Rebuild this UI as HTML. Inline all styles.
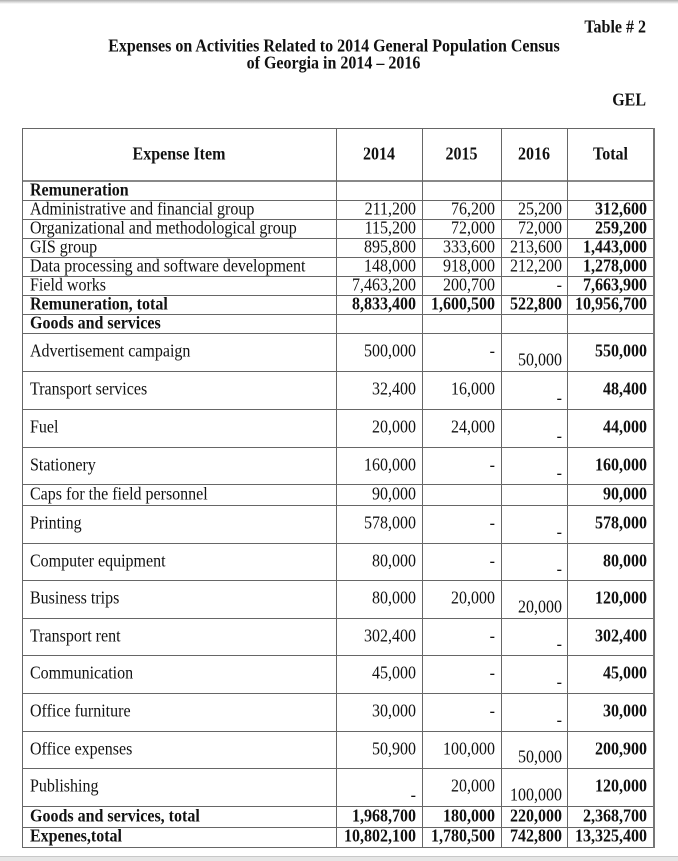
<!DOCTYPE html>
<html><head><meta charset="utf-8">
<style>
html,body{margin:0;padding:0;}
body{width:678px;height:861px;position:relative;background:#fff;overflow:hidden;font-family:"Liberation Serif","Times New Roman",serif;font-size:16px;color:#111;}
.t{position:absolute;white-space:nowrap;line-height:19px;transform:scaleY(1.15);transform-origin:50% 55%;}
.b{font-weight:bold;}
.h{position:absolute;left:22px;width:633px;height:1px;background:#666;}
.v{position:absolute;top:128px;height:720px;width:1px;background:#666;}
.r{position:absolute;left:0;width:678px;}
.r .t{top:0;line-height:inherit;}
.r .bt{top:auto;bottom:1px;line-height:19px;}
.c0{left:30px;}
.c1{right:262px;}
.c2{right:183px;}
.c3{right:116px;}
.c4{right:31px;}
</style></head><body>
<div style="position:absolute;left:0;top:0;width:678px;height:4px;background:linear-gradient(#b0b0b0,#fff);"></div>
<div style="position:absolute;left:0;top:856px;width:678px;height:1px;background:#c8c8c8;"></div>
<div style="position:absolute;left:0;top:857px;width:678px;height:4px;background:#e6e6e6;"></div>

<div class="t b" style="right:32px;top:18px;">Table # 2</div>
<div class="t b" style="left:0;width:668px;text-align:center;top:37px;">Expenses on Activities Related to 2014 General Population Census</div>
<div class="t b" style="left:0;width:667px;text-align:center;top:54px;">of Georgia in 2014 – 2016</div>
<div class="t b" style="right:32px;top:91px;">GEL</div>

<!-- horizontal lines -->
<div class="h" style="top:128px"></div>
<div class="h" style="top:180px;height:2px;background:#888"></div>
<div class="h" style="top:200px"></div>
<div class="h" style="top:219px"></div>
<div class="h" style="top:238px"></div>
<div class="h" style="top:257px"></div>
<div class="h" style="top:276px"></div>
<div class="h" style="top:295px"></div>
<div class="h" style="top:314px"></div>
<div class="h" style="top:333px"></div>
<div class="h" style="top:371px"></div>
<div class="h" style="top:409px"></div>
<div class="h" style="top:447px"></div>
<div class="h" style="top:484px"></div>
<div class="h" style="top:505px"></div>
<div class="h" style="top:543px"></div>
<div class="h" style="top:580px"></div>
<div class="h" style="top:618px"></div>
<div class="h" style="top:655px"></div>
<div class="h" style="top:693px"></div>
<div class="h" style="top:731px"></div>
<div class="h" style="top:768px"></div>
<div class="h" style="top:806px"></div>
<div class="h" style="top:827px"></div>
<div class="h" style="top:847px"></div>

<!-- vertical lines -->
<div class="v" style="left:22px"></div>
<div class="v" style="left:336px"></div>
<div class="v" style="left:422px"></div>
<div class="v" style="left:501px"></div>
<div class="v" style="left:567px"></div>
<div class="v" style="left:653px;width:2px;background:#777"></div>

<!-- header -->
<div class="r b" style="top:128px;height:53px;line-height:53px;">
<div class="t" style="left:22px;width:314px;text-align:center;">Expense Item</div>
<div class="t" style="left:336px;width:86px;text-align:center;">2014</div>
<div class="t" style="left:422px;width:79px;text-align:center;">2015</div>
<div class="t" style="left:501px;width:66px;text-align:center;">2016</div>
<div class="t" style="left:567px;width:87px;text-align:center;">Total</div>
</div>

<!-- Remuneration block -->
<div class="r" style="top:181px;height:19px;line-height:19px;"><div class="t b c0">Remuneration</div></div>
<div class="r" style="top:200px;height:19px;line-height:19px;">
<div class="t c0">Administrative and financial group</div><div class="t c1">211,200</div><div class="t c2">76,200</div><div class="t c3">25,200</div><div class="t b c4">312,600</div></div>
<div class="r" style="top:219px;height:19px;line-height:19px;">
<div class="t c0">Organizational and methodological group</div><div class="t c1">115,200</div><div class="t c2">72,000</div><div class="t c3">72,000</div><div class="t b c4">259,200</div></div>
<div class="r" style="top:238px;height:19px;line-height:19px;">
<div class="t c0">GIS group</div><div class="t c1">895,800</div><div class="t c2">333,600</div><div class="t c3">213,600</div><div class="t b c4">1,443,000</div></div>
<div class="r" style="top:257px;height:19px;line-height:19px;">
<div class="t c0">Data processing and software development</div><div class="t c1">148,000</div><div class="t c2">918,000</div><div class="t c3">212,200</div><div class="t b c4">1,278,000</div></div>
<div class="r" style="top:276px;height:19px;line-height:19px;">
<div class="t c0">Field works</div><div class="t c1">7,463,200</div><div class="t c2">200,700</div><div class="t c3">-</div><div class="t b c4">7,663,900</div></div>
<div class="r b" style="top:295px;height:19px;line-height:19px;">
<div class="t c0">Remuneration, total</div><div class="t c1">8,833,400</div><div class="t c2">1,600,500</div><div class="t c3">522,800</div><div class="t c4">10,956,700</div></div>
<div class="r" style="top:314px;height:19px;line-height:19px;"><div class="t b c0">Goods and services</div></div>

<!-- Goods block -->
<div class="r" style="top:333px;height:38px;line-height:38px;">
<div class="t c0">Advertisement campaign</div><div class="t c1">500,000</div><div class="t c2">-</div><div class="t bt c3">50,000</div><div class="t b c4">550,000</div></div>
<div class="r" style="top:371px;height:38px;line-height:38px;">
<div class="t c0">Transport services</div><div class="t c1">32,400</div><div class="t c2">16,000</div><div class="t bt c3">-</div><div class="t b c4">48,400</div></div>
<div class="r" style="top:409px;height:38px;line-height:38px;">
<div class="t c0">Fuel</div><div class="t c1">20,000</div><div class="t c2">24,000</div><div class="t bt c3">-</div><div class="t b c4">44,000</div></div>
<div class="r" style="top:447px;height:37px;line-height:37px;">
<div class="t c0">Stationery</div><div class="t c1">160,000</div><div class="t c2">-</div><div class="t bt c3">-</div><div class="t b c4">160,000</div></div>
<div class="r" style="top:484px;height:21px;line-height:21px;">
<div class="t c0">Caps for the field personnel</div><div class="t c1">90,000</div><div class="t b c4">90,000</div></div>
<div class="r" style="top:505px;height:38px;line-height:38px;">
<div class="t c0">Printing</div><div class="t c1">578,000</div><div class="t c2">-</div><div class="t bt c3">-</div><div class="t b c4">578,000</div></div>
<div class="r" style="top:543px;height:37px;line-height:37px;">
<div class="t c0">Computer equipment</div><div class="t c1">80,000</div><div class="t c2">-</div><div class="t bt c3">-</div><div class="t b c4">80,000</div></div>
<div class="r" style="top:580px;height:38px;line-height:38px;">
<div class="t c0">Business trips</div><div class="t c1">80,000</div><div class="t c2">20,000</div><div class="t bt c3">20,000</div><div class="t b c4">120,000</div></div>
<div class="r" style="top:618px;height:37px;line-height:37px;">
<div class="t c0">Transport rent</div><div class="t c1">302,400</div><div class="t c2">-</div><div class="t bt c3">-</div><div class="t b c4">302,400</div></div>
<div class="r" style="top:655px;height:38px;line-height:38px;">
<div class="t c0">Communication</div><div class="t c1">45,000</div><div class="t c2">-</div><div class="t bt c3">-</div><div class="t b c4">45,000</div></div>
<div class="r" style="top:693px;height:38px;line-height:38px;">
<div class="t c0">Office furniture</div><div class="t c1">30,000</div><div class="t c2">-</div><div class="t bt c3">-</div><div class="t b c4">30,000</div></div>
<div class="r" style="top:731px;height:37px;line-height:37px;">
<div class="t c0">Office expenses</div><div class="t c1">50,900</div><div class="t c2">100,000</div><div class="t bt c3">50,000</div><div class="t b c4">200,900</div></div>
<div class="r" style="top:768px;height:38px;line-height:38px;">
<div class="t c0">Publishing</div><div class="t bt c1">-</div><div class="t c2">20,000</div><div class="t bt c3">100,000</div><div class="t b c4">120,000</div></div>
<div class="r b" style="top:806px;height:21px;line-height:21px;">
<div class="t c0">Goods and services, total</div><div class="t c1">1,968,700</div><div class="t c2">180,000</div><div class="t c3">220,000</div><div class="t c4">2,368,700</div></div>
<div class="r b" style="top:827px;height:20px;line-height:20px;">
<div class="t c0">Expenes,total</div><div class="t c1">10,802,100</div><div class="t c2">1,780,500</div><div class="t c3">742,800</div><div class="t c4">13,325,400</div></div>
</body></html>
